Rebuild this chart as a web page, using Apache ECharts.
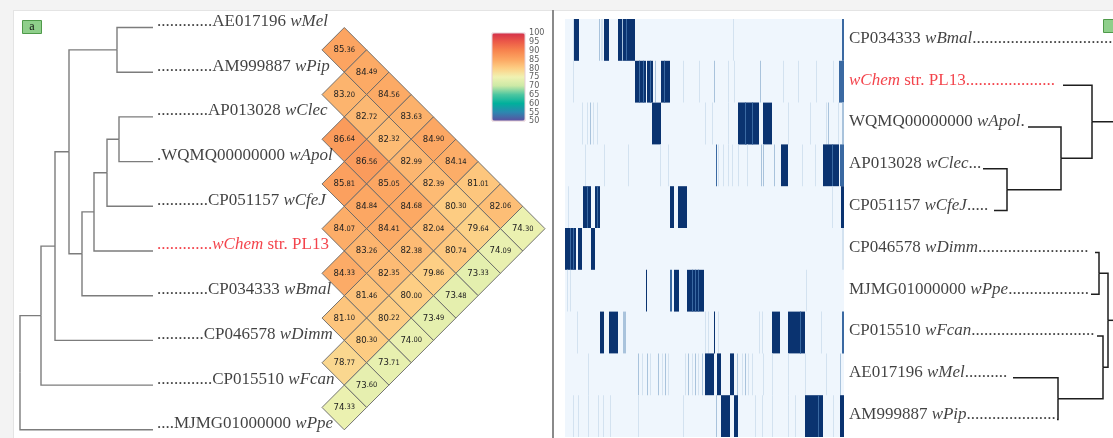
<!DOCTYPE html>
<html><head><meta charset="utf-8">
<script src="https://cdn.jsdelivr.net/npm/echarts@6/dist/echarts.min.js"></script>
<style>html,body{margin:0;padding:0;background:#f3f3f3}#c{width:1113px;height:438px}</style>
</head><body><div id="c"></div><script>
// ---------------- DATA ----------------
// left panel leaf order (top to bottom)
const leftLeaves = ['wMel','wPip','wClec','wApol','wCfeJ','wChem','wBmal','wDimm','wFcan','wPpe'];
// left labels: [prefix, italic name, suffix]
const leftLabelText = [
  ['.............AE017196 ','wMel',''],
  ['.............AM999887 ','wPip',''],
  ['............AP013028 ','wClec',''],
  ['.WQMQ00000000 ','wApol',''],
  ['............CP051157 ','wCfeJ',''],
  ['.............','wChem',' str. PL13'],
  ['............CP034333 ','wBmal',''],
  ['...........CP046578 ','wDimm',''],
  ['.............CP015510 ','wFcan',''],
  ['....MJMG01000000 ','wPpe','']
];
// left cladogram: [node, childA, childB, depth]
const leftTreeNodes = [
  ['n7','wClec','wApol',99], ['n6','n7','wCfeJ',87], ['n5','n6','wChem',74], ['n4','n5','wBmal',62],
  ['n8','wMel','wPip',97], ['n3','n8','n4',49], ['n2','n3','wDimm',35], ['n1','n2','wFcan',21], ['n0','n1','wPpe',0]
];
const leftLeafDepth = 133;
// pairwise identity (upper triangle, leaf order above): aniRows[i][j-i-1] = value(i,j)
const aniMel  = [85.36,84.49,84.56,83.63,84.90,84.14,81.01,82.06,74.30];
const aniPip  = [83.20,82.72,82.32,82.99,82.39,80.30,79.64,74.09];
const aniClec = [86.64,86.56,85.05,84.68,82.04,80.74,73.33];
const aniApol = [85.81,84.84,84.41,82.38,79.86,73.48];
const aniCfeJ = [84.07,83.26,82.35,80.00,73.49];
const aniChem = [84.33,81.46,80.22,74.00];
const aniBmal = [81.10,80.30,73.71];
const aniDimm = [78.77,73.60];
const aniFcan = [74.33];
const aniRows = [aniMel,aniPip,aniClec,aniApol,aniCfeJ,aniChem,aniBmal,aniDimm,aniFcan];
const legendTicks = [50,55,60,65,70,75,80,85,90,95,100];

// right panel row order
const rightLeaves = ['wBmal','wChem','wApol','wClec','wCfeJ','wDimm','wPpe','wFcan','wMel','wPip'];
const rightLabelText = [
  ['CP034333 ','wBmal','...................................'],
  ['','wChem',' str. PL13.....................'],
  ['WQMQ00000000 ','wApol','.'],
  ['AP013028 ','wClec','...'],
  ['CP051157 ','wCfeJ','.....'],
  ['CP046578 ','wDimm','..........................'],
  ['MJMG01000000 ','wPpe','...................'],
  ['CP015510 ','wFcan','.............................'],
  ['AE017196 ','wMel','..........'],
  ['AM999887 ','wPip','.....................']
];
// right dendrogram: [node, childA, childB, height]
const rightTreeNodes = [
  ['r1','wClec','wCfeJ',167], ['r2','wApol','r1',221], ['r3','wChem','r2',252],
  ['r4','wDimm','wPpe',259], ['r5','wMel','wPip',218], ['r6','wFcan','r5',263], ['r7','r4','r6',268]
];
const rightLeafStub = {wChem:223, wApol:188, wClec:143, wCfeJ:154, wDimm:255, wPpe:251, wFcan:257, wMel:173, wPip:217};
const rightRootStem = {r3:285, r7:285};

// presence heatmap segments per row: [startCol, endCol, level]
const segBmal = [[8,9,1],[9,14,4],[34,35,2],[36,38,1],[39,44,4],[53,70,4],[57,58,2],[61,62,3],[168,169,1],[277,279,3]];
const segChem = [[8,9,1],[70,81,4],[74,75,3],[78,79,3],[82,88,4],[85,86,3],[90,91,2],[96,105,4],[99,100,3],
  [118,119,1],[134,135,1],[149,150,2],[163,164,1],[169,170,1],[195,196,2],[218,219,1],[233,234,1],[251,252,1],[268,269,1],[274,279,3]];
const segApol = [[17,18,1],[22,23,1],[25,26,2],[28,29,1],[32,33,1],[87,96,4],[140,141,1],[147,148,1],[163,164,1],
  [173,194,4],[180,181,3],[187,188,3],[198,207,4],[223,224,1],[245,246,1],[261,262,1],[263,264,2],[273,274,1],[277,279,2]];
const segClec = [[20,21,1],[39,40,1],[63,64,1],[95,96,1],[103,104,1],[151,152,3],[153,154,1],[158,159,1],[163,164,1],[167,168,1],
  [173,174,1],[182,183,1],[196,197,2],[198,199,2],[209,210,2],[216,223,4],[237,238,1],[250,251,1],[258,274,4],[267,268,3],[275,279,3]];
const segCfeJ = [[3,4,1],[18,26,4],[22,23,3],[30,35,4],[32,33,3],[105,109,4],[113,122,4],[267,268,1],[276,279,4]];
const segDimm = [[0,11,4],[5,6,3],[8,9,3],[13,17,4],[26,30,4],[277,279,1]];
const segPpe  = [[2,3,1],[5,6,1],[81,82,4],[105,107,3],[109,114,4],[122,139,4],[127,128,3],[130,131,3],[133,134,3],[241,242,1]];
const segFcan = [[12,13,1],[35,39,4],[44,53,4],[58,61,2],[140,141,1],[143,144,1],[149,150,4],[153,154,1],[194,195,1],[197,198,1],
  [207,215,4],[223,240,4],[235,236,3],[256,257,1],[277,279,3]];
const segMel  = [[23,24,1],[73,74,2],[77,78,1],[82,83,2],[85,86,1],[93,94,2],[97,98,1],[100,101,2],[103,104,1],
  [120,121,1],[123,124,2],[127,128,1],[130,131,2],[133,134,1],[137,138,2],[140,149,4],[152,156,4],[165,169,4],
  [172,173,2],[177,178,1],[180,181,2],[183,184,1],[187,188,1],[198,199,1],[207,208,1],[223,224,1],[240,241,1],[261,262,1],[275,276,2]];
const segPip  = [[8,9,1],[13,14,1],[23,24,1],[33,34,1],[38,39,1],[45,46,1],[73,74,1],[118,119,1],[151,152,2],[156,165,4],[169,173,4],
  [190,191,1],[197,198,1],[207,208,1],[223,224,1],[230,231,1],[240,258,4],[253,254,3],[268,269,1],[275,279,4]];
const rightRows = [segBmal,segChem,segApol,segClec,segCfeJ,segDimm,segPpe,segFcan,segMel,segPip];
const nCols = 279;

// ---------------- STYLES ----------------
const SERIF = "'Liberation Serif','Times New Roman',serif";
const NARROW = "'Liberation Sans Narrow','DejaVu Sans Condensed','Roboto Condensed',Arial,sans-serif";
const levelColor = {1:'#d3e2f0',2:'#a9c3dc',3:'#3a69a2',4:'#0a3370'};
const rampColors = ['#5b4fa0','#2c88b0','#00b09c','#4cc6a0','#cce9a6','#f0f2b2','#fdce84','#fca662','#f7844e','#ec5a48','#d3304a'];
const labelRich = {
  n:{fontFamily:SERIF,fontSize:17,color:'#111'},
  i:{fontFamily:SERIF,fontSize:17,color:'#111',fontStyle:'italic'},
  r:{fontFamily:SERIF,fontSize:17,color:'#f0141e'},
  ri:{fontFamily:SERIF,fontSize:17,color:'#f0141e',fontStyle:'italic'}
};
function richLabel(parts, red){
  const a = red ? 'r' : 'n', b = red ? 'ri' : 'i';
  let s = '';
  if (parts[0]) s += '{' + a + '|' + parts[0] + '}';
  s += '{' + b + '|' + parts[1] + '}';
  if (parts[2]) s += '{' + a + '|' + parts[2] + '}';
  return s;
}

// ---------------- BUILD ----------------
function buildTree(nodes, leafPos, leafX, stems){
  const pos = {};
  Object.keys(leafPos).forEach(k => { pos[k] = [leafX(k), leafPos[k]]; });
  const edges = [];
  nodes.forEach(([id,a,b,d]) => {
    const y = (pos[a][1] + pos[b][1]) / 2;
    pos[id] = [d, y];
    edges.push([d, y, pos[a][0], pos[a][1]]);
    edges.push([d, y, pos[b][0], pos[b][1]]);
    if (stems && stems[id] != null) edges.push([stems[id], y, d, y]);
  });
  return edges;
}
const leftLeafPos = {}; leftLeaves.forEach((n,k) => leftLeafPos[n] = 2*k);
const leftEdges = buildTree(leftTreeNodes, leftLeafPos, () => leftLeafDepth, null);
const rightLeafPos = {}; rightLeaves.forEach((n,k) => { if (rightLeafStub[n] != null) rightLeafPos[n] = k + 0.5; });
const rightEdges = buildTree(rightTreeNodes, rightLeafPos, n => rightLeafStub[n], rightRootStem);

const diamondData = [];
aniRows.forEach((row,i) => row.forEach((val,idx) => {
  const j = i + idx + 1;
  diamondData.push([j - i, i + j, val]);
}));
const heatData = [];
rightRows.forEach((segs,r) => segs.forEach(s => heatData.push([r, s[0], s[1], s[2]])));

function elbow(params, api, color, width){
  const pd = api.value(0), py = api.value(1), cd = api.value(2), cy = api.value(3);
  return {type:'polyline', shape:{points:[api.coord([pd,py]), api.coord([pd,cy]), api.coord([cd,cy])]},
    style:{stroke:color, lineWidth:width, fill:null}};
}

const option = {
  animation:false,
  backgroundColor:'#f3f3f3',
  graphic:[
    {type:'rect', z:-10, shape:{x:13,y:10,width:1100,height:428}, style:{fill:'#ffffff'}},
    {type:'line', z:-9, shape:{x1:13,y1:10.5,x2:1113,y2:10.5}, style:{stroke:'#e4e4e4',lineWidth:1}},
    {type:'line', z:-9, shape:{x1:13.5,y1:10,x2:13.5,y2:438}, style:{stroke:'#e4e4e4',lineWidth:1}},
    {type:'rect', z:-8, shape:{x:552,y:10,width:2,height:428}, style:{fill:'#8a8a8a'}},
    {type:'rect', shape:{x:22.5,y:20.5,width:19,height:13}, style:{fill:'#8fcf8b',stroke:'#4f9a4a',lineWidth:1}},
    {type:'text', x:32, y:27, style:{text:'a', font:"12px "+SERIF, fill:'#111', align:'center', verticalAlign:'middle'}},
    {type:'rect', shape:{x:1103.5,y:19.5,width:14,height:13}, style:{fill:'#8fcf8b',stroke:'#4f9a4a',lineWidth:1}},
    {type:'rect', z:10, shape:{x:492,y:33,width:33,height:88}, style:{fill:null,stroke:'#e6cdd4',lineWidth:1}}
  ],
  grid:[
    {left:20, top:27.5, width:133, height:402.3, outerBoundsMode:'none'},
    {left:322, top:27.5, width:223, height:402.3, outerBoundsMode:'none'},
    {left:528, top:33, width:1, height:88, outerBoundsMode:'none'},
    {left:565, top:19, width:279, height:418, show:true, backgroundColor:'#eff6fd', borderWidth:0, outerBoundsMode:'none'},
    {left:840, top:22.5, width:273, height:418, outerBoundsMode:'none'}
  ],
  xAxis:[
    {gridIndex:0, type:'value', min:0, max:leftLeafDepth, show:false},
    {gridIndex:1, type:'value', min:0, max:10, show:false},
    {gridIndex:2, type:'value', min:0, max:1, show:false},
    {gridIndex:3, type:'value', min:0, max:nCols, show:false},
    {gridIndex:4, type:'value', min:0, max:273, show:false}
  ],
  yAxis:[
    {gridIndex:0, type:'value', min:0, max:18, inverse:true, show:false},
    {gridIndex:1, type:'value', min:0, max:18, inverse:true, show:false},
    {gridIndex:2, type:'value', min:legendTicks[0], max:legendTicks[legendTicks.length-1], show:false},
    {gridIndex:3, type:'value', min:0, max:10, inverse:true, show:false},
    {gridIndex:4, type:'value', min:0, max:10, inverse:true, show:false}
  ],
  visualMap:[{
    type:'continuous', seriesIndex:2, dimension:2, min:50, max:100, calculable:false,
    orient:'vertical', left:492, top:33, itemWidth:33, itemHeight:88, padding:0,
    inRange:{color:rampColors}, text:null
  }],
  series:[
    {type:'custom', xAxisIndex:0, yAxisIndex:0, clip:false, silent:true,
      renderItem:(p,api)=>elbow(p,api,'#7c7c7c',1.4), data:leftEdges},
    {type:'scatter', xAxisIndex:0, yAxisIndex:0, symbolSize:0, silent:true, itemStyle:{color:'transparent'},
      data:leftLeaves.map((n,k)=>[leftLeafDepth, 2*k, k]),
      label:{show:true, position:'right', distance:4, offset:[0,-6], verticalAlign:'middle',
        formatter:p=>richLabel(leftLabelText[p.value[2]], leftLeaves[p.value[2]]==='wChem'), rich:labelRich}},
    {type:'custom', xAxisIndex:1, yAxisIndex:1, clip:false, silent:true, data:diamondData,
      renderItem:(params,api)=>{
        const u=api.value(0), v=api.value(1), val=api.value(2);
        const L=api.coord([u-1,v]), T=api.coord([u,v-1]), R=api.coord([u+1,v]), B=api.coord([u,v+1]), C=api.coord([u,v]);
        const parts = val.toFixed(2).split('.');
        return {type:'group', children:[
          {type:'polygon', shape:{points:[L,T,R,B]}, style:{fill:api.visual('color'), stroke:'#666', lineWidth:0.9}},
          {type:'text', x:C[0], y:C[1], style:{text:'{a|'+parts[0]+'}{b|.'+parts[1]+'}', align:'center', verticalAlign:'middle',
            rich:{a:{fontSize:9.5, fontFamily:NARROW, fill:'#222'}, b:{fontSize:7.5, fontFamily:NARROW, fill:'#222'}}}}
        ]};
      }},
    {type:'custom', xAxisIndex:3, yAxisIndex:3, clip:true, silent:true, data:heatData,
      renderItem:(params,api)=>{
        const r=api.value(0), c0=api.value(1), c1=api.value(2), lv=api.value(3);
        const p0=api.coord([c0,r]), p1=api.coord([c1,r+1]);
        return {type:'rect', shape:{x:p0[0], y:p0[1], width:p1[0]-p0[0], height:p1[1]-p0[1]}, style:{fill:levelColor[lv]}};
      }},
    {type:'custom', xAxisIndex:4, yAxisIndex:4, clip:false, silent:true,
      renderItem:(p,api)=>elbow(p,api,'#1e1e1e',1.5), data:rightEdges},
    {type:'scatter', xAxisIndex:4, yAxisIndex:4, symbolSize:0, silent:true, itemStyle:{color:'transparent'},
      data:rightLeaves.map((n,k)=>[9, k+0.5, k]),
      label:{show:true, position:'right', distance:0, offset:[0,-5], verticalAlign:'middle',
        formatter:p=>richLabel(rightLabelText[p.value[2]], rightLeaves[p.value[2]]==='wChem'), rich:labelRich}},
    {type:'scatter', xAxisIndex:2, yAxisIndex:2, symbolSize:0, silent:true, itemStyle:{color:'transparent'},
      data:legendTicks.map(t=>[0,t]), labelLayout:{hideOverlap:false},
      label:{show:true, position:'right', distance:1, formatter:p=>String(p.value[1]),
        fontSize:9, lineHeight:9, fontFamily:NARROW, color:'#333'}}
  ]
};
const chart = echarts.init(document.getElementById('c'));
chart.setOption(option);
</script></body></html>
